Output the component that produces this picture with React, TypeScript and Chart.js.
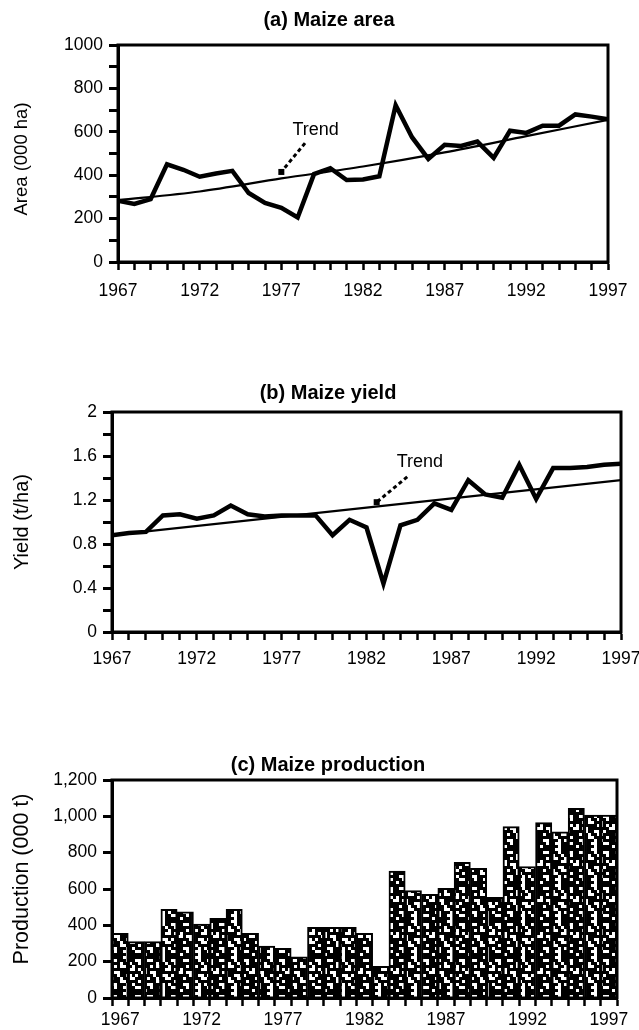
import React, { useEffect, useRef } from "react";
import { Chart, registerables } from "chart.js";

Chart.register(...registerables);

// ---------------- data ----------------
const YEARS = [
  1967, 1968, 1969, 1970, 1971, 1972, 1973, 1974, 1975, 1976, 1977, 1978, 1979, 1980, 1981, 1982,
  1983, 1984, 1985, 1986, 1987, 1988, 1989, 1990, 1991, 1992, 1993, 1994, 1995, 1996, 1997,
];
const X_LABEL_YEARS = [1967, 1972, 1977, 1982, 1987, 1992, 1997];

const AREA = [
  282, 268, 290, 450, 425, 393, 408, 420, 318, 272, 250, 205, 405, 432, 378, 380,
  395, 722, 575, 475, 540, 535, 555, 480, 605, 595, 628, 628, 680, 670, 658,
];
const AREA_TREND_YEARS = [1967, 1972, 1977, 1982, 1987, 1992, 1997];
const AREA_TREND = [285, 325, 385, 440, 505, 580, 655];
const AREA_TICK_LABELS = [0, 200, 400, 600, 800, 1000];

const YIELD = [
  0.88, 0.9, 0.91, 1.06, 1.07, 1.03, 1.06, 1.15, 1.07, 1.05, 1.06, 1.06, 1.06, 0.88, 1.02, 0.95,
  0.44, 0.97, 1.02, 1.17, 1.11, 1.38, 1.25, 1.22, 1.52, 1.21, 1.49, 1.49, 1.5, 1.52, 1.53,
];
const YIELD_TREND_YEARS = [1967, 1997];
const YIELD_TREND = [0.88, 1.38];
const YIELD_TICK_LABELS = [0, 0.4, 0.8, 1.2, 1.6, 2];

const PRODUCTION = [
  356, 310, 310, 488, 475, 407, 438, 488, 356, 286, 273, 227, 389, 389, 389, 356,
  175, 699, 591, 571, 604, 747, 714, 554, 943, 723, 965, 915, 1044, 1007, 1007,
];
const PROD_TICK_LABELS = [0, 200, 400, 600, 800, 1000, 1200];

// ---------------- styles ----------------
const SANS = "'Liberation Sans', Arial, sans-serif";
const BLACK = "#000";

const PATTERN_ROWS = [
  "111110011111",
  "100111011001",
  "111101101101",
  "110100110111",
  "011111100101",
  "010011111110",
  "111011001011",
  "101101100111",
  "111100111101",
  "100111010111",
  "110110011001",
  "011111011111",
];

function makePattern(ctx: CanvasRenderingContext2D) {
  const cell = 3;
  const c = document.createElement("canvas");
  c.width = PATTERN_ROWS[0].length * cell;
  c.height = PATTERN_ROWS.length * cell;
  const g = c.getContext("2d")!;
  g.fillStyle = "#fff";
  g.fillRect(0, 0, c.width, c.height);
  g.fillStyle = BLACK;
  PATTERN_ROWS.forEach((row, r) => {
    row.split("").forEach((ch, k) => {
      if (ch === "1") g.fillRect(k * cell, r * cell, cell, cell);
    });
  });
  return ctx.createPattern(c, "repeat");
}

// ---------------- decoration plugin ----------------
const decorPlugin = {
  id: "decor",
  afterDraw(chart: any, _args: any, opts: any) {
    const { ctx, chartArea } = chart;
    ctx.save();
    ctx.strokeStyle = BLACK;
    ctx.lineWidth = 3;
    ctx.strokeRect(chartArea.left, chartArea.top, chartArea.right - chartArea.left, chartArea.bottom - chartArea.top);
    ctx.fillStyle = BLACK;
    ctx.textAlign = "center";
    ctx.textBaseline = "middle";
    ctx.font = `bold ${opts.titleSize}px ${SANS}`;
    ctx.fillText(opts.title, opts.titleX, opts.titleY);
    ctx.save();
    ctx.translate(opts.yTitleX, opts.yTitleY);
    ctx.rotate(-Math.PI / 2);
    ctx.font = `${opts.yTitleSize}px ${SANS}`;
    ctx.fillText(opts.yTitle, 0, 0);
    ctx.restore();
    if (opts.trend) {
      const xs = chart.scales.x;
      const ys = chart.scales.y;
      const t = opts.trend;
      const fx = xs.getPixelForValue(t.from[0]);
      const fy = ys.getPixelForValue(t.from[1]);
      const tx = xs.getPixelForValue(t.to[0]);
      const ty = ys.getPixelForValue(t.to[1]);
      ctx.setLineDash([4, 3]);
      ctx.lineWidth = 3;
      ctx.beginPath();
      ctx.moveTo(fx, fy);
      ctx.lineTo(tx, ty);
      ctx.stroke();
      ctx.setLineDash([]);
      ctx.fillRect(tx - 3, ty - 3, 6, 6);
      ctx.font = `18px ${SANS}`;
      ctx.fillText(t.text, xs.getPixelForValue(t.label[0]), ys.getPixelForValue(t.label[1]));
    }
    ctx.restore();
  },
};

// ---------------- shared axis pieces ----------------
const tickFont = { family: SANS, size: 17.5 };

function yearAxis(height: number, labelPad: number) {
  return {
    type: "linear",
    position: "bottom",
    min: YEARS[0],
    max: YEARS[YEARS.length - 1],
    afterBuildTicks: (s: any) => {
      s.ticks = YEARS.map((v) => ({ value: v }));
    },
    afterFit: (s: any) => {
      s.height = height;
      s.paddingLeft = 0;
      s.paddingRight = 0;
    },
    ticks: {
      autoSkip: false,
      maxRotation: 0,
      color: BLACK,
      font: tickFont,
      padding: labelPad,
      callback: (v: number) => (X_LABEL_YEARS.includes(v) ? String(v) : ""),
    },
    grid: { drawOnChartArea: false, drawTicks: true, tickLength: 8, tickWidth: 2.5, tickColor: BLACK },
    border: { display: true, width: 3, color: BLACK },
  };
}

function valueAxis(min: number, max: number, step: number, labels: number[], fmt: (v: number) => string, width: number) {
  return {
    type: "linear",
    min,
    max,
    ticks: {
      stepSize: step,
      autoSkip: false,
      color: BLACK,
      font: tickFont,
      padding: 6,
      callback: (v: number) => {
        const hit = labels.find((l) => Math.abs(l - v) < step / 10);
        return hit === undefined ? "" : fmt(hit);
      },
    },
    afterFit: (s: any) => {
      s.width = width;
      s.paddingTop = 0;
      s.paddingBottom = 0;
    },
    grid: { drawOnChartArea: false, drawTicks: true, tickLength: 9, tickWidth: 3, tickColor: BLACK },
    border: { display: true, width: 3, color: BLACK },
  };
}

// ---------------- configs ----------------
function areaConfig() {
  return {
    type: "line",
    data: {
      datasets: [
        {
          data: YEARS.map((y, i) => ({ x: y, y: AREA[i] })),
          borderColor: BLACK,
          borderWidth: 4.5,
          pointRadius: 0,
          tension: 0,
        },
        {
          data: AREA_TREND_YEARS.map((y, i) => ({ x: y, y: AREA_TREND[i] })),
          borderColor: BLACK,
          borderWidth: 2.2,
          pointRadius: 0,
          tension: 0.3,
        },
      ],
    },
    options: {
      animation: false,
      responsive: false,
      layout: { padding: { left: 8, right: 31, top: 45, bottom: 18 } },
      scales: {
        x: yearAxis(40, 11),
        y: valueAxis(0, 1000, 100, AREA_TICK_LABELS, (v) => String(v), 110),
      },
      plugins: {
        legend: { display: false },
        tooltip: { enabled: false },
        decor: {
          title: "(a) Maize area",
          titleSize: 20,
          titleX: 329,
          titleY: 20,
          yTitle: "Area (000 ha)",
          yTitleSize: 18.5,
          yTitleX: 22,
          yTitleY: 159,
          trend: { text: "Trend", label: [1979.1, 608], from: [1978.45, 548], to: [1977.0, 415] },
        },
      },
    },
    plugins: [decorPlugin],
  };
}

function yieldConfig() {
  return {
    type: "line",
    data: {
      datasets: [
        {
          data: YEARS.map((y, i) => ({ x: y, y: YIELD[i] })),
          borderColor: BLACK,
          borderWidth: 4.5,
          pointRadius: 0,
          tension: 0,
        },
        {
          data: YIELD_TREND_YEARS.map((y, i) => ({ x: y, y: YIELD_TREND[i] })),
          borderColor: BLACK,
          borderWidth: 2.2,
          pointRadius: 0,
          tension: 0,
        },
      ],
    },
    options: {
      animation: false,
      responsive: false,
      layout: { padding: { left: 8, right: 18, top: 52, bottom: 8 } },
      scales: {
        x: yearAxis(40, 9),
        y: valueAxis(0, 2, 0.2, YIELD_TICK_LABELS, (v) => String(v), 104),
      },
      plugins: {
        legend: { display: false },
        tooltip: { enabled: false },
        decor: {
          title: "(b) Maize yield",
          titleSize: 20,
          titleX: 328,
          titleY: 33,
          yTitle: "Yield (t/ha)",
          yTitleSize: 20,
          yTitleX: 22,
          yTitleY: 162,
          trend: { text: "Trend", label: [1985.15, 1.545], from: [1984.4, 1.41], to: [1982.6, 1.18] },
        },
      },
    },
    plugins: [decorPlugin],
  };
}

function productionConfig(ctx: CanvasRenderingContext2D) {
  const pattern = makePattern(ctx);
  return {
    type: "bar",
    data: {
      labels: YEARS.map(String),
      datasets: [
        {
          data: PRODUCTION,
          xAxisID: "xc",
          backgroundColor: pattern,
          borderColor: BLACK,
          borderWidth: 2,
          barPercentage: 1,
          categoryPercentage: 1,
        },
      ],
    },
    options: {
      animation: false,
      responsive: false,
      layout: { padding: { left: 8, right: 22, top: 40, bottom: 2 } },
      scales: {
        xc: { type: "category", display: false, offset: true },
        x: yearAxis(30, 4),
        y: valueAxis(0, 1200, 200, PROD_TICK_LABELS, (v) => v.toLocaleString("en-US"), 104),
      },
      plugins: {
        legend: { display: false },
        tooltip: { enabled: false },
        decor: {
          title: "(c) Maize production",
          titleSize: 20,
          titleX: 328,
          titleY: 25,
          yTitle: "Production (000 t)",
          yTitleSize: 21.5,
          yTitleX: 22,
          yTitleY: 139,
        },
      },
    },
    plugins: [decorPlugin],
  };
}

// ---------------- components ----------------
function Panel({ top, height, make }: { top: number; height: number; make: (ctx: CanvasRenderingContext2D) => any }) {
  const ref = useRef<HTMLCanvasElement | null>(null);
  useEffect(() => {
    const canvas = ref.current!;
    const ctx = canvas.getContext("2d")!;
    const chart = new Chart(ctx, make(ctx));
    return () => chart.destroy();
  }, [make]);
  return (
    <canvas
      ref={ref}
      width={639}
      height={height}
      style={{ position: "absolute", left: 0, top, width: 639, height, display: "block" }}
    />
  );
}

export default function App() {
  return (
    <div style={{ position: "absolute", left: 0, top: 0, width: 639, height: 1030, background: "#fff", overflow: "hidden" }}>
      <Panel top={0} height={320} make={areaConfig} />
      <Panel top={360} height={320} make={yieldConfig} />
      <Panel top={740} height={290} make={productionConfig} />
    </div>
  );
}
